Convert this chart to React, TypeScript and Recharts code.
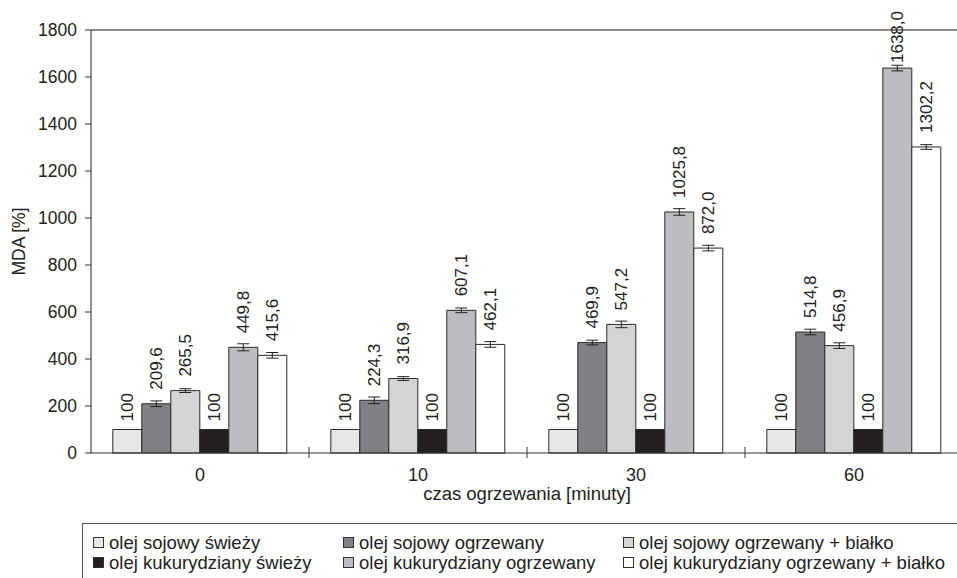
import { Bar, BarChart, ErrorBar, LabelList, ReferenceLine, XAxis, YAxis } from "recharts";

const categories = ["0", "10", "30", "60"];

const sojowySwiezy = [100, 100, 100, 100];
const sojowyOgrzewany = [209.6, 224.3, 469.9, 514.8];
const sojowyBialko = [265.5, 316.9, 547.2, 456.9];
const kukurydzianySwiezy = [100, 100, 100, 100];
const kukurydzianyOgrzewany = [449.8, 607.1, 1025.8, 1638.0];
const kukurydzianyBialko = [415.6, 462.1, 872.0, 1302.2];

// odchylenia (w przybliżeniu)
const sojowyOgrzewanyErr = [12, 14, 10, 12];
const sojowyBialkoErr = [8, 8, 14, 12];
const kukurydzianyOgrzewanyErr = [15, 10, 14, 12];
const kukurydzianyBialkoErr = [12, 12, 12, 10];

const yTicks = [0, 200, 400, 600, 800, 1000, 1200, 1400, 1600, 1800];

const FONT = "'Liberation Sans', Arial, sans-serif";
const TEXT = "#222";

type Series = {
  key: string;
  name: string;
  fill: string;
  values: number[];
  errors?: number[];
  decimals: number;
};

const series: Series[] = [
  { key: "s1", name: "olej sojowy świeży", fill: "#e6e7e8", values: sojowySwiezy, decimals: 0 },
  { key: "s2", name: "olej sojowy ogrzewany", fill: "#808184", values: sojowyOgrzewany, errors: sojowyOgrzewanyErr, decimals: 1 },
  { key: "s3", name: "olej sojowy ogrzewany + białko", fill: "#d3d4d5", values: sojowyBialko, errors: sojowyBialkoErr, decimals: 1 },
  { key: "s4", name: "olej kukurydziany świeży", fill: "#231f20", values: kukurydzianySwiezy, decimals: 0 },
  { key: "s5", name: "olej kukurydziany ogrzewany", fill: "#bcbdc0", values: kukurydzianyOgrzewany, errors: kukurydzianyOgrzewanyErr, decimals: 1 },
  { key: "s6", name: "olej kukurydziany ogrzewany + białko", fill: "#ffffff", values: kukurydzianyBialko, errors: kukurydzianyBialkoErr, decimals: 1 },
];

const data = categories.map((c, i) => {
  const row: Record<string, string | number> = { czas: c };
  series.forEach((s) => {
    row[s.key] = s.values[i];
    if (s.errors) row[s.key + "e"] = s.errors[i];
  });
  return row;
});

function CategoryTick(props: any) {
  const { x, y, payload } = props;
  const half = payload?.offset ?? 109;
  return (
    <g>
      <line x1={x + half} x2={x + half} y1={y - 6} y2={y + 5} stroke="#333" />
      <text x={x} y={y + 22} textAnchor="middle" dominantBaseline="central" fontSize={18} fontFamily={FONT} fill={TEXT}>
        {payload.value}
      </text>
    </g>
  );
}

function makeLabel(s: Series) {
  const off = s.errors ? 14 : 8;
  return (props: any) => {
    const { x, y, width, value } = props;
    const cx = Number(x) + Number(width) / 2;
    const sy = Math.max(Number(y) - off, 63);
    const txt = s.decimals ? Number(value).toFixed(s.decimals).replace(".", ",") : String(value);
    return (
      <text
        x={cx}
        y={sy}
        transform={`rotate(-90 ${cx} ${sy})`}
        textAnchor="start"
        dominantBaseline="central"
        fontSize={17}
        fontFamily={FONT}
        fill={TEXT}
      >
        {txt}
      </text>
    );
  };
}

function Legend() {
  return (
    <div
      style={{
        position: "absolute",
        left: 82,
        top: 523,
        width: 900,
        height: 70,
        border: "1px solid #555",
        boxSizing: "border-box",
        fontFamily: FONT,
        fontSize: 18.5,
        color: TEXT,
      }}
    >
      {series.map((s, i) => {
        const col = i % 3;
        const row = Math.floor(i / 3);
        const left = [10, 260, 540][col];
        return (
          <div
            key={s.key}
            style={{
              position: "absolute",
              left,
              top: 8 + row * 20,
              height: 21,
              display: "flex",
              alignItems: "center",
              whiteSpace: "nowrap",
            }}
          >
            <span
              style={{
                display: "inline-block",
                width: 11,
                height: 11,
                background: s.fill,
                border: "1px solid #333",
                boxSizing: "border-box",
                marginRight: 5,
              }}
            />
            {s.name}
          </div>
        );
      })}
    </div>
  );
}

export default function App() {
  return (
    <div style={{ position: "fixed", left: 0, top: 0, width: 957, height: 578, overflow: "hidden", background: "#fff" }}>
      <BarChart
        width={980}
        height={600}
        data={data}
        margin={{ top: 30, right: 17, left: 0, bottom: 0 }}
        barCategoryGap="10%"
        barGap={0}
      >
        <ReferenceLine y={1800} stroke="#666" strokeWidth={1.5} />
        <XAxis
          dataKey="czas"
          height={147}
          tickSize={0}
          tickMargin={0}
          tick={<CategoryTick />}
          axisLine={{ stroke: "#333" }}
          interval={0}
          label={(p: any) => {
            const vb = p.viewBox;
            return (
              <text
                x={vb.x + vb.width / 2}
                y={vb.y + 40}
                textAnchor="middle"
                dominantBaseline="central"
                fontSize={18.5}
                fontFamily={FONT}
                fill={TEXT}
              >
                czas ogrzewania [minuty]
              </text>
            );
          }}
        />
        <YAxis
          width={91}
          domain={[0, 1800]}
          ticks={yTicks}
          interval={0}
          tickSize={6}
          tickMargin={8}
          tickLine={{ stroke: "#333" }}
          axisLine={{ stroke: "#222" }}
          tick={{ fontSize: 17.5, fontFamily: FONT, fill: TEXT }}
          label={(p: any) => {
            const vb = p.viewBox;
            const cx = vb.x + 19;
            const cy = vb.y + vb.height / 2;
            return (
              <text
                x={cx}
                y={cy}
                transform={`rotate(-90 ${cx} ${cy})`}
                textAnchor="middle"
                dominantBaseline="central"
                fontSize={17.5}
                fontFamily={FONT}
                fill={TEXT}
              >
                MDA [%]
              </text>
            );
          }}
        />
        {series.map((s) => (
          <Bar key={s.key} dataKey={s.key} name={s.name} fill={s.fill} stroke="#2a2a2a" strokeWidth={1} isAnimationActive={false}>
            {s.errors && <ErrorBar dataKey={s.key + "e"} width={6} stroke="#222" strokeWidth={1} />}
            <LabelList dataKey={s.key} content={makeLabel(s)} />
          </Bar>
        ))}
      </BarChart>
      <Legend />
    </div>
  );
}
